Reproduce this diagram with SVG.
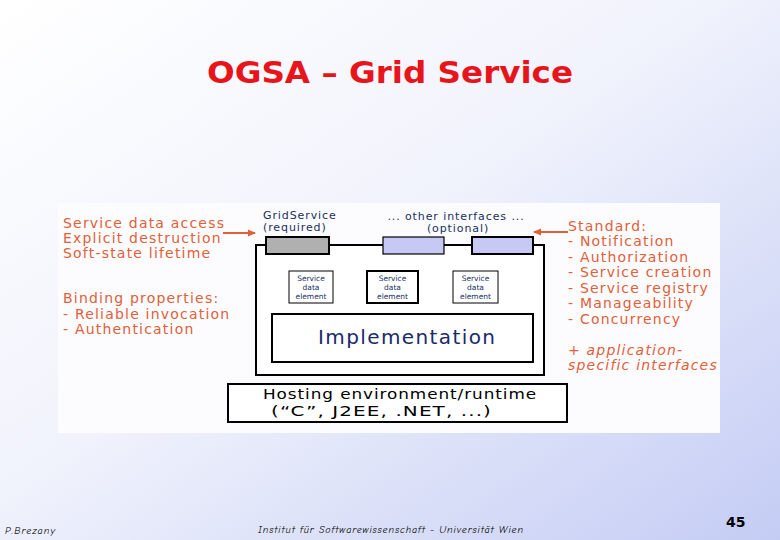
<svg xmlns="http://www.w3.org/2000/svg" width="780" height="540" viewBox="0 0 780 540">
<defs>
<linearGradient id="bg" x1="0" y1="0" x2="1" y2="1">
<stop offset="0" stop-color="#ffffff"/>
<stop offset="0.45" stop-color="#f1f3fc"/>
<stop offset="1" stop-color="#c4ccf4"/>
</linearGradient>
<marker id="ah" markerWidth="8" markerHeight="8" refX="7" refY="4" orient="auto" markerUnits="userSpaceOnUse">
<path d="M0,0.5 L8,4 L0,7.5 Z" fill="#e0603a"/>
</marker>
<style>
.or{font-family:"DejaVu Sans",Verdana,sans-serif;font-size:14px;letter-spacing:1.2px;fill:#e0603a}
.bl{font-family:"DejaVu Sans",Verdana,sans-serif;font-size:11px;letter-spacing:0.9px;fill:#1a3060}
.sd{font-family:"DejaVu Sans",Verdana,sans-serif;font-size:7.5px;fill:#1a3060;text-anchor:middle}
.box{fill:#ffffff;stroke:#000;stroke-width:2}
.ft{font-family:"Comic Neue","DejaVu Sans",sans-serif;font-style:italic;font-size:10px;fill:#000}
.arr{stroke:#e0603a;stroke-width:2;fill:none;marker-end:url(#ah)}
.hs{font-family:"DejaVu Sans",Verdana,sans-serif;font-size:14.5px;letter-spacing:0.8px;fill:#000}
</style>
</defs>
<rect width="780" height="540" fill="url(#bg)"/>
<text x="390" y="83" text-anchor="middle" font-family="'DejaVu Sans',sans-serif" font-weight="bold" font-size="31" fill="#e8141c" textLength="366" lengthAdjust="spacingAndGlyphs">OGSA – Grid Service</text>
<rect x="58" y="203" width="662" height="230" fill="#fcfcfe"/>
<g id="left-labels">
<text class="or" x="63" y="228">Service data access</text>
<text class="or" x="63" y="243">Explicit destruction</text>
<text class="or" x="63" y="258">Soft-state lifetime</text>
<text class="or" x="63" y="303">Binding properties:</text>
<text class="or" x="63" y="319">- Reliable invocation</text>
<text class="or" x="63" y="334">- Authentication</text>
</g>
<g id="right-labels">
<text class="or" x="568" y="231">Standard:</text>
<text class="or" x="568" y="246">- Notification</text>
<text class="or" x="568" y="262">- Authorization</text>
<text class="or" x="568" y="277">- Service creation</text>
<text class="or" x="568" y="293">- Service registry</text>
<text class="or" x="568" y="308">- Manageability</text>
<text class="or" x="568" y="324">- Concurrency</text>
<text class="or" x="568" y="355" font-style="italic">+ application-</text>
<text class="or" x="568" y="370" font-style="italic">specific interfaces</text>
</g>
<g id="grid-service">
<rect class="box" x="256" y="245" width="288" height="130"/>
</g>
<g id="if-required">
<rect x="266" y="237" width="63" height="17" fill="#b0b0b0" stroke="#000" stroke-width="2"/>
<text class="bl" x="263" y="219">GridService</text>
<text class="bl" x="263" y="231">(required)</text>
</g>
<g id="if-optional-1">
<rect x="383" y="237" width="61" height="17" fill="#c8c8f4" stroke="#000" stroke-width="1.2"/>
</g>
<g id="if-optional-2">
<rect x="472" y="237" width="61" height="17" fill="#c8c8f4" stroke="#000" stroke-width="2"/>
</g>
<g id="optional-label">
<text class="bl" x="456" y="220" text-anchor="middle">... other interfaces ...</text>
<text class="bl" x="458" y="232" text-anchor="middle">(optional)</text>
</g>
<g id="sde-1">
<rect x="289" y="271" width="44" height="32" fill="#fff" stroke="#000" stroke-width="1"/>
<text class="sd" x="311" y="281">Service</text><text class="sd" x="311" y="290">data</text><text class="sd" x="311" y="299">element</text>
</g>
<g id="sde-2">
<rect x="367" y="271" width="51" height="32" fill="#fff" stroke="#000" stroke-width="2"/>
<text class="sd" x="392.5" y="281">Service</text><text class="sd" x="392.5" y="290">data</text><text class="sd" x="392.5" y="299">element</text>
</g>
<g id="sde-3">
<rect x="453" y="271" width="45" height="32" fill="#fff" stroke="#000" stroke-width="1"/>
<text class="sd" x="475.5" y="281">Service</text><text class="sd" x="475.5" y="290">data</text><text class="sd" x="475.5" y="299">element</text>
</g>
<g id="implementation">
<rect class="box" x="272" y="314" width="261" height="48"/>
<text x="318" y="344" font-family="'DejaVu Sans',Verdana,sans-serif" font-size="20" fill="#1a2a6a" textLength="177" lengthAdjust="spacing">Implementation</text>
</g>
<g id="hosting">
<rect class="box" x="228" y="384" width="339" height="38"/>
<text class="hs" x="263" y="399" textLength="274" lengthAdjust="spacingAndGlyphs">Hosting environment/runtime</text>
<text class="hs" x="271" y="416" textLength="221" lengthAdjust="spacingAndGlyphs">(“C”, J2EE, .NET, ...)</text>
</g>
<g id="connectors">
<line class="arr" x1="223" y1="233" x2="255" y2="233"/>
<line class="arr" x1="568" y1="232" x2="534" y2="232"/>
</g>
<g id="footer">
<text class="ft" x="5" y="534" textLength="50" lengthAdjust="spacing">P.Brezany</text>
<text class="ft" x="258" y="533" textLength="265" lengthAdjust="spacing">Institut für Softwarewissenschaft - Universität Wien</text>
<text x="726" y="527" font-family="'DejaVu Sans',sans-serif" font-weight="bold" font-size="14" fill="#000">45</text>
</g>
</svg>
